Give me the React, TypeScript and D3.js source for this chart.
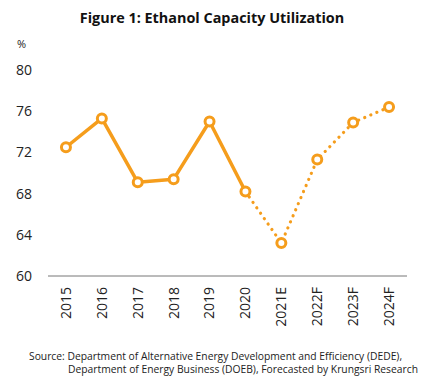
import React, { useEffect, useRef } from "react";
import * as d3 from "d3";

const years = ["2015", "2016", "2017", "2018", "2019", "2020", "2021E", "2022F", "2023F", "2024F"];
const utilization = [72.5, 75.3, 69.1, 69.4, 75.0, 68.2, 63.2, 71.3, 74.9, 76.4];
const yTicks = [60, 64, 68, 72, 76, 80];
const lastActual = 5; // 2020 is the last actual year, the rest are forecasts

const ORANGE = "#F59D1C";
const FONT = "'Open Sans', 'DejaVu Sans', sans-serif";

const App = () => {
  const ref = useRef<SVGSVGElement>(null);

  useEffect(() => {
    const svg = d3.select(ref.current);
    svg.selectAll("*").remove();

    const x = d3.scaleBand().domain(years).range([48, 407]);
    const y = d3.scaleLinear().domain([60, 80]).range([276, 70]);
    const cx = (d: string) => (x(d) as number) + x.bandwidth() / 2;

    svg
      .append("text")
      .attr("x", 212)
      .attr("y", 23)
      .attr("text-anchor", "middle")
      .attr("font-family", FONT)
      .attr("font-weight", "bold")
      .attr("font-size", 14.4)
      .attr("fill", "#111")
      .text("Figure 1: Ethanol Capacity Utilization");

    svg
      .append("text")
      .attr("x", 17)
      .attr("y", 48)
      .attr("font-family", FONT)
      .attr("font-size", 11)
      .attr("fill", "#222")
      .text("%");

    svg
      .append("g")
      .selectAll("text")
      .data(yTicks)
      .enter()
      .append("text")
      .attr("x", 16)
      .attr("y", (d) => y(d))
      .attr("dy", "0.35em")
      .attr("font-family", FONT)
      .attr("font-size", 14)
      .attr("fill", "#222")
      .text((d) => d);

    svg
      .append("line")
      .attr("x1", 48)
      .attr("x2", 407)
      .attr("y1", y(60))
      .attr("y2", y(60))
      .attr("stroke", "#777")
      .attr("stroke-width", 1);

    svg
      .append("g")
      .selectAll("text")
      .data(years)
      .enter()
      .append("text")
      .attr("transform", (d) => `translate(${cx(d)},287) rotate(-90)`)
      .attr("text-anchor", "end")
      .attr("dy", "0.35em")
      .attr("font-family", FONT)
      .attr("font-size", 14)
      .attr("fill", "#222")
      .text((d) => d);

    const pts = years.map((d, i) => ({ year: d, v: utilization[i] }));
    const line = d3
      .line<{ year: string; v: number }>()
      .x((d) => cx(d.year))
      .y((d) => y(d.v));

    svg
      .append("path")
      .attr("d", line(pts.slice(0, lastActual + 1)))
      .attr("fill", "none")
      .attr("stroke", ORANGE)
      .attr("stroke-width", 3.5)
      .attr("stroke-linejoin", "round");

    svg
      .append("path")
      .attr("d", line(pts.slice(lastActual)))
      .attr("fill", "none")
      .attr("stroke", ORANGE)
      .attr("stroke-width", 3.2)
      .attr("stroke-linecap", "round")
      .attr("stroke-dasharray", "0.1 6.5");

    svg
      .append("g")
      .selectAll("circle")
      .data(pts)
      .enter()
      .append("circle")
      .attr("cx", (d) => cx(d.year))
      .attr("cy", (d) => y(d.v))
      .attr("r", 4.5)
      .attr("fill", "#fff")
      .attr("stroke", ORANGE)
      .attr("stroke-width", 3);

    const src = svg
      .append("g")
      .attr("font-family", FONT)
      .attr("font-size", 10.3)
      .attr("fill", "#222");
    src
      .append("text")
      .attr("x", 29)
      .attr("y", 360)
      .text("Source: Department of Alternative Energy Development and Efficiency (DEDE),");
    src
      .append("text")
      .attr("x", 68)
      .attr("y", 373)
      .text("Department of Energy Business (DOEB), Forecasted by Krungsri Research");
  }, []);

  return (
    <svg
      ref={ref}
      width={435}
      height={384}
      style={{ position: "absolute", left: 0, top: 0, background: "#fff" }}
    />
  );
};

export default App;
